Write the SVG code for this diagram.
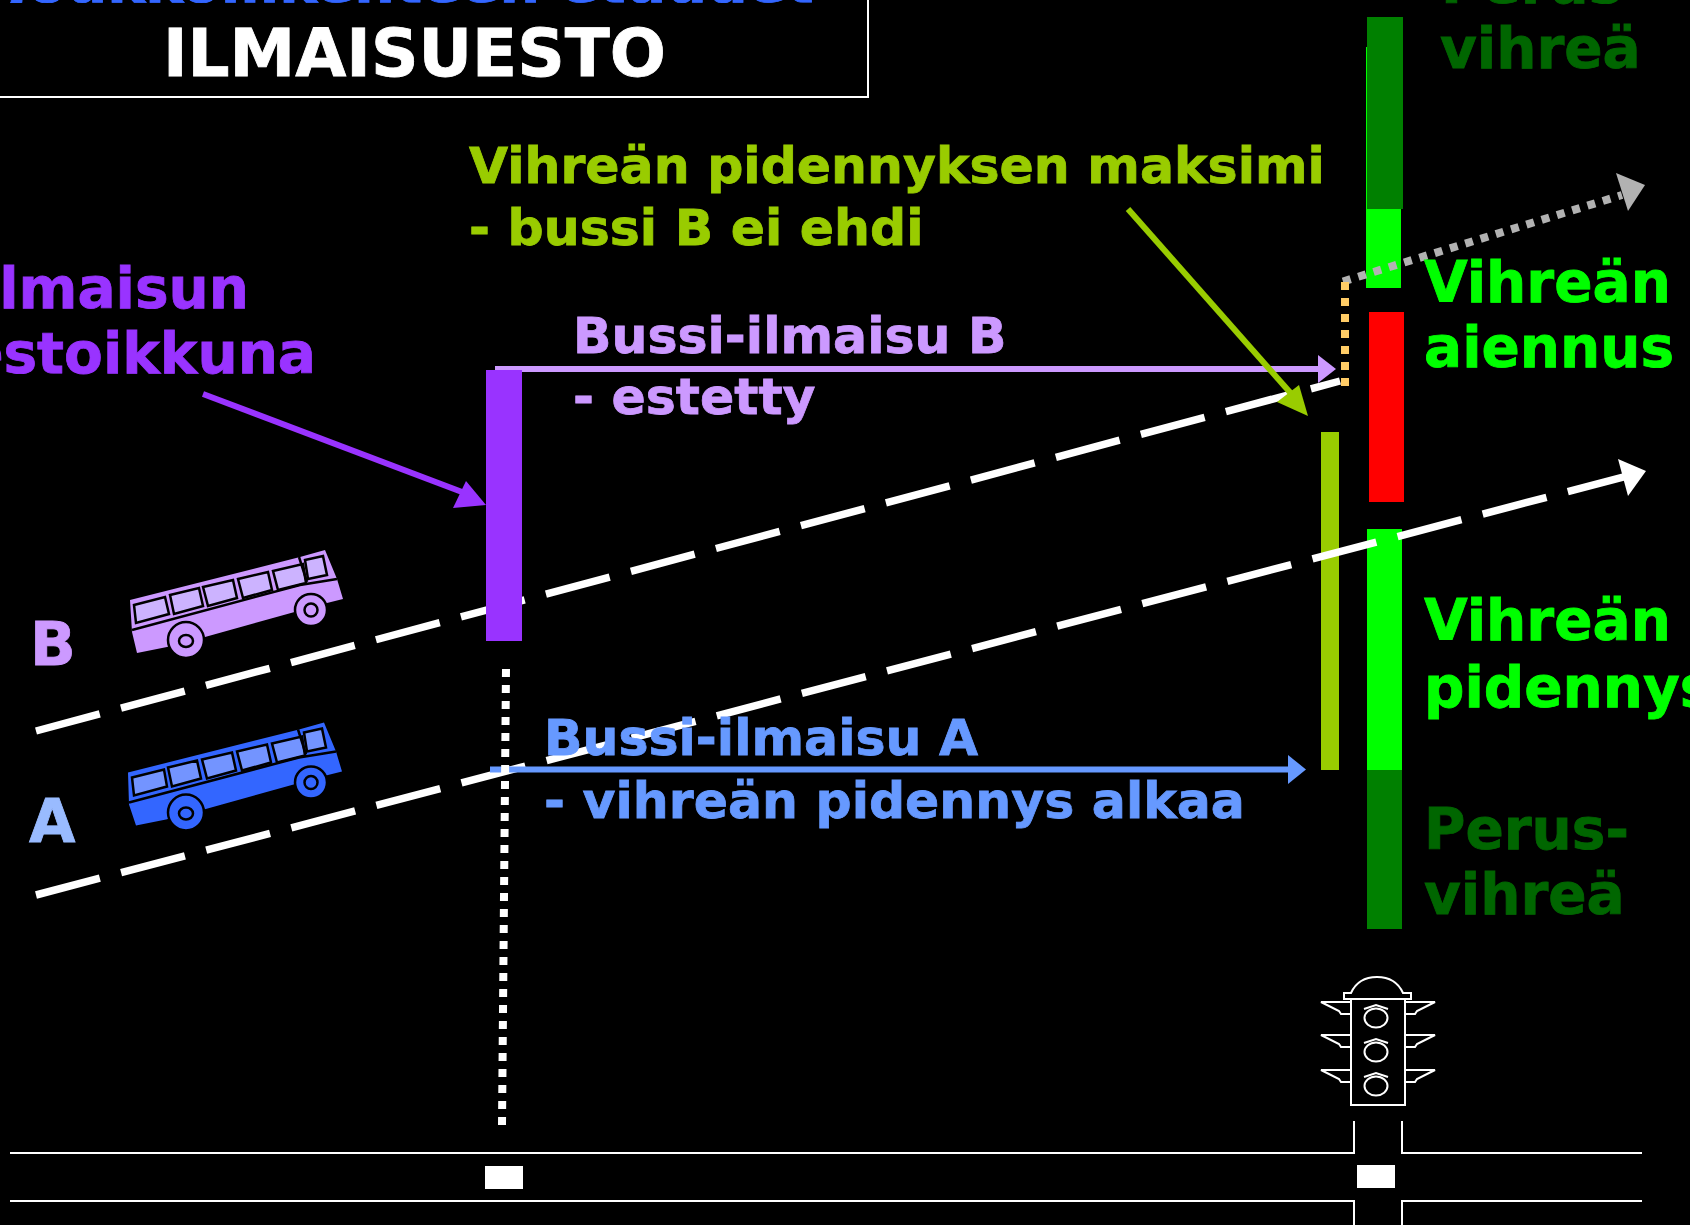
<svg xmlns="http://www.w3.org/2000/svg" width="1690" height="1225" viewBox="0 0 1690 1225">
<defs>
<clipPath id="top-clip"><rect x="0" y="0" width="868" height="3"/></clipPath>
<style>
text{font-family:"DejaVu Sans","Liberation Sans",sans-serif;font-weight:700;stroke-width:.8px}
.t66{font-size:66px}.t57{font-size:57px}.t60{font-size:60px}.t56{font-size:56.500px}.t50{font-size:50.500px}
.cw{fill:#fff;stroke:#fff}.cb{fill:#3366ff;stroke:#3366ff}.cd{fill:#006600;stroke:#006600}.co{fill:#99cc00;stroke:#99cc00}
.cp{fill:#9933ff;stroke:#9933ff}.cl{fill:#cc99ff;stroke:#cc99ff}.cs{fill:#6699ff;stroke:#6699ff}.cg{fill:#00ff00;stroke:#00ff00}.ca{fill:#99bbff;stroke:#99bbff}
.w{fill:none;stroke:#fff;stroke-width:2}
.tl{fill:none;stroke:#fff;stroke-width:2}
.lg{fill:#cc99ff}.lb{fill:#3366ff}
.wg{fill:#ccb3ff;stroke:#000;stroke-width:2.500}.wb{fill:#7394ff;stroke:#000;stroke-width:2.500}
.bl{fill:none;stroke:#000;stroke-width:2.500}
.wh{stroke:#000;stroke-width:2.500}
</style>
</defs>
<rect width="1690" height="1225" fill="#000"/>
<g id="title">
<rect x="-10" y="-10" width="878" height="107" fill="none" stroke="#fff" stroke-width="2"/>
<g clip-path="url(#top-clip)"><text id="title-top" x="410" y="1.500" text-anchor="middle" class="t57 cb">Joukkoliikenteen etuudet</text></g>
<text x="163" y="76" class="t66 cw">ILMAISUESTO</text>
</g>
<g id="signal-bars">
<rect x="1366" y="47" width="2" height="162" fill="#00ff00"/>
<rect x="1366" y="209" width="35" height="79" fill="#00ff00"/>
</g>
<g id="connectors">
<path d="M1343 281.500L1622 195" fill="none" stroke="#b2b2b2" stroke-width="8" stroke-dasharray="8 8"/>
<polygon points="1645,185 1616,173 1628,211" fill="#b2b2b2"/>
<path d="M36 731L1340 381" fill="none" stroke="#fff" stroke-width="7.500" stroke-dasharray="66 22"/>
<rect x="1321" y="432" width="18" height="338" fill="#99cc00"/>
<rect x="1367" y="529" width="35" height="241" fill="#00ff00"/>
<path d="M36 895L1635 474" fill="none" stroke="#fff" stroke-width="7.500" stroke-dasharray="66 22"/>
<polygon points="1646,471 1618,459 1628,496" fill="#fff"/>
<path d="M495 369H1320" stroke="#cc99ff" stroke-width="6" fill="none"/>
<polygon points="1336,369 1318,355 1318,383" fill="#cc99ff"/>
<path d="M1345 282V386" stroke="#ffcc66" stroke-width="8" stroke-dasharray="8 8" fill="none"/>
<path d="M490 769.500H1290" stroke="#6699ff" stroke-width="6" fill="none"/>
<polygon points="1306,769.500 1288,755 1288,784" fill="#6699ff"/>
<path d="M506 669L502 1125" stroke="#fff" stroke-width="8" stroke-dasharray="8 8" fill="none"/>
<path d="M1128 209L1295 398" stroke="#99cc00" stroke-width="6" fill="none"/>
<polygon points="1308,416 1299,385 1277,402" fill="#99cc00"/>
<path d="M203 394L470 495" stroke="#9933ff" stroke-width="6" fill="none"/>
<polygon points="486,505 466,481 453,508" fill="#9933ff"/>
</g>
<g id="detection-window"><rect x="486" y="370" width="36" height="271" fill="#9933ff"/></g>
<g id="signal-phases">
<rect x="1367" y="17" width="36" height="192" fill="#008000"/>
<rect x="1369" y="312" width="35" height="190" fill="#ff0000"/>
<rect x="1367" y="770" width="35" height="159" fill="#008000"/>
</g>
<g id="labels">
<text x="1441" y="3" class="t56 cd">Perus-</text>
<text x="1440" y="68" class="t56 cd">vihreä</text>
<text x="469" y="183" class="t50 co">Vihreän pidennyksen maksimi</text>
<text x="469" y="245" class="t50 co">- bussi B ei ehdi</text>
<text x="249" y="308" text-anchor="end" class="t56 cp">Ilmaisun</text>
<text x="316" y="373" text-anchor="end" class="t56 cp">estoikkuna</text>
<text x="573" y="353" class="t50 cl">Bussi-ilmaisu B</text>
<text x="573" y="414" class="t50 cl">- estetty</text>
<text x="544" y="755" class="t50 cs">Bussi-ilmaisu A</text>
<text x="544" y="818" class="t50 cs">- vihreän pidennys alkaa</text>
<text x="1424" y="302" class="t56 cg">Vihreän</text>
<text x="1424" y="367" class="t56 cg">aiennus</text>
<text x="1424" y="640" class="t56 cg">Vihreän</text>
<text x="1424" y="707" class="t56 cg">pidennys</text>
<text x="1424" y="849" class="t56 cd">Perus-</text>
<text x="1424" y="914" class="t56 cd">vihreä</text>
<text x="30" y="665" class="t60 cl">B</text>
<text x="29" y="842" class="t60 ca">A</text>
</g>
<g id="bus-b">
<polygon class="lg" points="130,600 300,557 325,550 337,579 343,599 327,603 205,637 167,647 137,653 132,632"/>
<g class="wg">
<polygon points="134,605 165,597 169,614 136,623"/><polygon points="170,595 199,588 203,606 174,614"/><polygon points="203,587 233,580 237,598 208,606"/><polygon points="238,579 268,572 272,590 243,598"/><polygon points="273,571 303,564 306,583 278,590"/><polygon points="305,560 323,556 327,575 308,579"/>
</g>
<path class="bl" d="M132 630L300 585L337 579M299 557L307 582"/>
<circle cx="186" cy="640" r="18" class="lg wh"/><ellipse cx="186" cy="641" rx="7" ry="6" class="lg wh"/>
<circle cx="311" cy="610" r="16" class="lg wh"/><circle cx="311" cy="610" r="6.500" class="lg wh"/>
</g>
<g id="bus-a" transform="translate(-1 172.500)">
<polygon class="lb" points="129,600 300,557 325,550 337,579 343,599 327,603 205,637 167,647 137,653 130,632"/>
<g class="wb">
<polygon points="133,605 165,597 168,614 135,623"/><polygon points="169,595 198,588 202,606 173,614"/><polygon points="203,587 233,580 237,598 208,606"/><polygon points="238,579 268,572 272,590 243,598"/><polygon points="273,571 303,564 306,583 278,590"/><polygon points="305,560 323,556 327,575 308,579"/>
</g>
<path class="bl" d="M130 630L300 585L337 579M299 557L307 582"/>
<circle cx="187" cy="640" r="18" class="lb wh"/><ellipse cx="187" cy="641" rx="7" ry="6" class="lb wh"/>
<circle cx="312" cy="610" r="16" class="lb wh"/><circle cx="312" cy="610" r="6.500" class="lb wh"/>
</g>
<g id="traffic-light">
<rect class="tl" x="1351" y="999" width="54" height="106"/>
<path class="tl" d="M1344 999V993H1351C1356 982 1366 977 1377 977C1388 977 1398 982 1403 993H1411V999Z"/>
<path class="tl" d="M1351 1002H1321L1339 1011L1341 1014H1351M1405 1002H1435L1417 1011L1415 1014H1405"/>
<path class="tl" d="M1351 1035H1321L1339 1044L1341 1047H1351M1405 1035H1435L1417 1044L1415 1047H1405"/>
<path class="tl" d="M1351 1070H1321L1339 1079L1341 1082H1351M1405 1070H1435L1417 1079L1415 1082H1405"/>
<ellipse class="tl" cx="1376" cy="1018" rx="11.500" ry="9.500"/><path class="tl" d="M1364 1009L1376 1005L1388 1009"/>
<ellipse class="tl" cx="1376" cy="1052" rx="11.500" ry="9.500"/><path class="tl" d="M1364 1043L1376 1039L1388 1043"/>
<ellipse class="tl" cx="1376" cy="1086" rx="11.500" ry="9.500"/><path class="tl" d="M1364 1077L1376 1073L1388 1077"/>
</g>
<g id="road">
<path class="w" d="M10 1153H1354V1121M1402 1121V1153H1642M10 1201H1354V1225M1402 1225V1201H1642"/>
<rect x="485" y="1166" width="38" height="23" fill="#fff"/>
<rect x="1357" y="1165" width="38" height="23" fill="#fff"/>
</g>
</svg>
